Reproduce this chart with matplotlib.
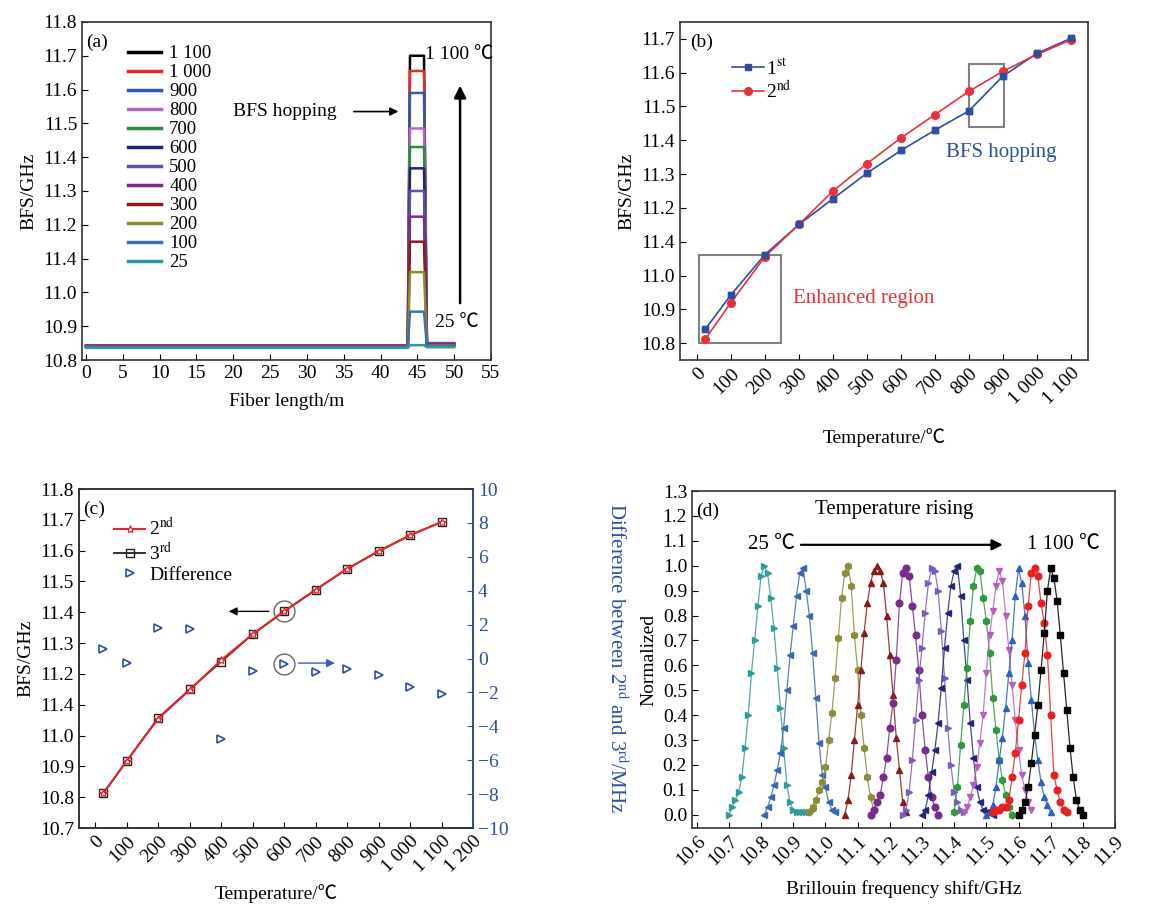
import numpy as np
import matplotlib.pyplot as plt
from matplotlib.patches import Rectangle

plt.rcParams['font.family'] = ['Liberation Serif', 'Noto Sans CJK SC']
plt.rcParams['mathtext.fontset'] = 'stix'
plt.rcParams['font.size'] = 14
plt.rcParams['axes.linewidth'] = 1.2
plt.rcParams['axes.edgecolor'] = '#333333'

# ---------------- data ----------------
# (a) BFS along the fiber, heated section at ~44-46 m
temps_a = ['1 100', '1 000', '900', '800', '700', '600', '500', '400', '300', '200', '100', '25']
colors_a = ['#000000', '#e8262c', '#2a5db0', '#b467c2', '#2e8b3e', '#1f2270',
            '#5b4fb8', '#7a2a90', '#8b1a1a', '#8c8c2e', '#3b6fb3', '#2a9a9a']
fiber_pos = [0, 43.7, 44.0, 45.9, 46.3, 50]
base_before = [10.842, 10.843, 10.841, 10.842, 10.840, 10.841, 10.840, 10.843, 10.840, 10.839, 10.838, 10.836]
peak_bfs = [11.700, 11.655, 11.590, 11.485, 11.430, 11.367, 11.300, 11.224, 11.150, 11.060, 10.943, 10.844]
base_after = [10.850, 10.849, 10.848, 10.847, 10.846, 10.845, 10.845, 10.846, 10.844, 10.843, 10.842, 10.838]

# (b) BFS vs temperature, 1st and 2nd heating
temp_b = [25, 100, 200, 300, 400, 500, 600, 700, 800, 900, 1000, 1100]
bfs_1st = [10.842, 10.943, 11.062, 11.151, 11.227, 11.303, 11.370, 11.430, 11.487, 11.590, 11.657, 11.702]
bfs_2nd = [10.813, 10.920, 11.056, 11.151, 11.250, 11.331, 11.407, 11.476, 11.545, 11.604, 11.654, 11.697]

# (c) 2nd vs 3rd heating and their difference (MHz)
bfs_2nd_c = [10.812, 10.918, 11.055, 11.148, 11.245, 11.329, 11.403, 11.473, 11.541, 11.598, 11.650, 11.693]
bfs_3rd_c = [10.812, 10.918, 11.057, 11.150, 11.240, 11.329, 11.403, 11.473, 11.541, 11.598, 11.650, 11.693]
diff_mhz = [0.56, -0.27, 1.82, 1.74, -4.76, -0.74, -0.34, -0.78, -0.60, -0.97, -1.70, -2.10]

# (d) normalized Brillouin gain spectra
f25 = [10.70, 10.71, 10.72, 10.73, 10.74, 10.75, 10.76, 10.77, 10.78, 10.79, 10.80, 10.81, 10.82, 10.83,
       10.84, 10.85, 10.86, 10.87, 10.88, 10.89, 10.90, 10.91, 10.92, 10.93, 10.94, 10.95, 10.96]
g25 = [0.00, 0.03, 0.06, 0.09, 0.15, 0.27, 0.40, 0.57, 0.70, 0.84, 0.96, 1.00, 0.97, 0.87,
       0.75, 0.59, 0.43, 0.27, 0.12, 0.05, 0.02, 0.01, 0.01, 0.01, 0.01, 0.01, 0.02]
f100 = [10.81, 10.82, 10.83, 10.84, 10.85, 10.86, 10.87, 10.88, 10.89, 10.90, 10.91, 10.92,
        10.93, 10.94, 10.95, 10.96, 10.97, 10.98, 10.99, 11.00, 11.01, 11.02, 11.03]
g100 = [0.00, 0.03, 0.07, 0.12, 0.18, 0.25, 0.35, 0.50, 0.64, 0.76, 0.88, 0.97,
        0.99, 0.90, 0.80, 0.65, 0.47, 0.29, 0.16, 0.11, 0.05, 0.02, 0.01]
f200 = [10.95, 10.96, 10.97, 10.98, 10.99, 11.00, 11.01, 11.02, 11.03, 11.04, 11.05,
        11.06, 11.07, 11.08, 11.09, 11.10, 11.11, 11.12, 11.13, 11.14, 11.15]
g200 = [0.01, 0.03, 0.06, 0.10, 0.13, 0.19, 0.30, 0.41, 0.55, 0.71, 0.87,
        0.97, 1.00, 0.92, 0.72, 0.58, 0.40, 0.27, 0.15, 0.07, 0.02]
f300 = [11.06, 11.07, 11.08, 11.09, 11.10, 11.11, 11.12, 11.13, 11.14, 11.15,
        11.16, 11.17, 11.18, 11.19, 11.20, 11.21, 11.22, 11.23, 11.24, 11.25]
g300 = [0.00, 0.06, 0.16, 0.30, 0.44, 0.58, 0.73, 0.85, 0.93, 0.98,
        1.00, 0.98, 0.93, 0.80, 0.64, 0.48, 0.31, 0.18, 0.05, 0.01]
f400 = [11.14, 11.15, 11.16, 11.17, 11.18, 11.19, 11.20, 11.21, 11.22, 11.23, 11.24,
        11.25, 11.26, 11.27, 11.28, 11.29, 11.30, 11.31, 11.32, 11.33, 11.34, 11.35]
g400 = [0.00, 0.02, 0.05, 0.08, 0.15, 0.23, 0.35, 0.45, 0.62, 0.85, 0.97,
        0.99, 0.96, 0.84, 0.72, 0.58, 0.40, 0.26, 0.15, 0.07, 0.03, 0.00]
f500 = [11.24, 11.25, 11.26, 11.27, 11.28, 11.29, 11.30, 11.31, 11.32, 11.33,
        11.34, 11.35, 11.36, 11.37, 11.38, 11.39, 11.40, 11.41, 11.42, 11.43]
g500 = [0.00, 0.02, 0.09, 0.22, 0.38, 0.54, 0.67, 0.81, 0.93, 0.99,
        0.98, 0.90, 0.74, 0.55, 0.35, 0.20, 0.09, 0.05, 0.02, 0.01]
f600 = [11.30, 11.31, 11.32, 11.33, 11.34, 11.35, 11.36, 11.37, 11.38, 11.39, 11.40, 11.41,
        11.42, 11.43, 11.44, 11.45, 11.46, 11.47, 11.48, 11.49, 11.50, 11.51, 11.52]
g600 = [0.00, 0.02, 0.08, 0.17, 0.26, 0.37, 0.51, 0.67, 0.81, 0.92, 0.98, 1.00,
        0.88, 0.70, 0.54, 0.37, 0.23, 0.11, 0.05, 0.02, 0.01, 0.01, 0.00]
f700 = [11.40, 11.41, 11.42, 11.43, 11.44, 11.45, 11.46, 11.47, 11.48, 11.49,
        11.50, 11.51, 11.52, 11.53, 11.54, 11.55, 11.56, 11.57, 11.58]
g700 = [0.01, 0.11, 0.28, 0.44, 0.59, 0.78, 0.92, 0.99, 0.98, 0.87,
        0.78, 0.65, 0.47, 0.34, 0.22, 0.14, 0.08, 0.03, 0.00]
f800 = [11.43, 11.44, 11.45, 11.46, 11.47, 11.48, 11.49, 11.50, 11.51, 11.52, 11.53,
        11.54, 11.55, 11.56, 11.57, 11.58, 11.59, 11.60, 11.61, 11.62, 11.63, 11.64]
g800 = [0.01, 0.03, 0.07, 0.12, 0.19, 0.29, 0.40, 0.57, 0.72, 0.82, 0.92,
        0.98, 0.94, 0.80, 0.66, 0.52, 0.38, 0.26, 0.16, 0.10, 0.05, 0.02]
f900 = [11.50, 11.51, 11.52, 11.53, 11.54, 11.55, 11.56, 11.57, 11.58, 11.59, 11.60,
        11.61, 11.62, 11.63, 11.64, 11.65, 11.66, 11.67, 11.68, 11.69, 11.70]
g900 = [0.00, 0.01, 0.04, 0.11, 0.22, 0.31, 0.43, 0.57, 0.70, 0.88, 0.99,
        0.93, 0.80, 0.61, 0.46, 0.32, 0.22, 0.13, 0.07, 0.04, 0.01]
f1000 = [11.52, 11.53, 11.54, 11.55, 11.56, 11.57, 11.58, 11.59, 11.60, 11.61, 11.62, 11.63,
         11.64, 11.65, 11.66, 11.67, 11.68, 11.69, 11.70, 11.71, 11.72, 11.73, 11.74, 11.75]
g1000 = [0.01, 0.02, 0.02, 0.03, 0.03, 0.06, 0.15, 0.25, 0.38, 0.52, 0.65, 0.84,
         0.97, 0.99, 0.96, 0.85, 0.77, 0.64, 0.40, 0.16, 0.10, 0.05, 0.02, 0.01]
f1100 = [11.60, 11.61, 11.62, 11.63, 11.64, 11.65, 11.66, 11.67, 11.68, 11.69, 11.70,
         11.71, 11.72, 11.73, 11.74, 11.75, 11.76, 11.77, 11.78, 11.79, 11.80]
g1100 = [0.00, 0.02, 0.05, 0.11, 0.21, 0.32, 0.44, 0.58, 0.73, 0.90, 0.99,
         0.95, 0.86, 0.72, 0.57, 0.42, 0.27, 0.15, 0.06, 0.02, 0.00]

spectra = [(f25, g25), (f100, g100), (f200, g200), (f300, g300), (f400, g400), (f500, g500),
           (f600, g600), (f700, g700), (f800, g800), (f900, g900), (f1000, g1000), (f1100, g1100)]
colors_d = ['#2e9c9a', '#3a68b0', '#8c8c3a', '#8b1a1a', '#7b2a8e', '#7a5bbf',
            '#24257a', '#2e9a3e', '#b55fbf', '#2f5fc0', '#e82020', '#000000']
markers_d = ['>', '<', 'h', '^', 'o', '>', '<', 'h', 'v', '^', 'o', 's']

blue_c = '#2c4fa3'
red_c = '#e8323a'

fig = plt.figure(figsize=(11.61, 9.11), dpi=100)

# ---------------- (a) ----------------
ax = fig.add_axes([0.0706, 0.6048, 0.3523, 0.3711])
for i in range(len(temps_a)):
    yv = [base_before[i], base_before[i], peak_bfs[i], peak_bfs[i], base_after[i], base_after[i]]
    ax.plot(fiber_pos, yv, color=colors_a[i], lw=1.8, label=temps_a[i])
ax.set_xlim(-0.55, 55)
ax.set_ylim(10.8, 11.8)
ax.set_xticks(np.arange(0, 56, 5))
yt = [10.8, 10.9, 11.0, 11.1, 11.2, 11.3, 11.4, 11.5, 11.6, 11.7, 11.8]
ax.set_yticks(yt)
ax.set_yticklabels(['10.8', '10.9', '11.0', '11.4', '11.2', '11.3', '11.4', '11.5', '11.6', '11.7', '11.8'])
ax.tick_params(direction='in', length=4)
ax.set_xlabel('Fiber length/m', labelpad=8)
ax.set_ylabel('BFS/GHz')
leg = ax.legend(loc='upper left', bbox_to_anchor=(0.085, 0.965), frameon=False, fontsize=13.5,
                handlelength=1.75, handletextpad=0.45, labelspacing=0.1, borderpad=0.1)
for ln in leg.get_lines():
    ln.set_linewidth(2.5)
ax.text(0.01, 0.965, '(a)', transform=ax.transAxes, va='top', ha='left')
ax.text(46.1, 11.705, '1 100 ℃', va='center', ha='left')
ax.text(47.4, 10.912, '25 ℃', va='center', ha='left')
ax.annotate('', xy=(50.8, 11.62), xytext=(50.8, 10.96),
            arrowprops=dict(arrowstyle='-|>', color='black', lw=1.8, mutation_scale=18))
ax.text(20.0, 11.535, 'BFS hopping', va='center', ha='left')
ax.annotate('', xy=(42.8, 11.535), xytext=(36.0, 11.535),
            arrowprops=dict(arrowstyle='-|>', color='black', lw=1.2, mutation_scale=12))

# ---------------- (b) ----------------
ax = fig.add_axes([0.5857, 0.6048, 0.3514, 0.3711])
ax.plot(temp_b, bfs_1st, '-s', color=blue_c, lw=1.2, ms=5, label='1$^{\\mathrm{st}}$')
ax.plot(temp_b, bfs_2nd, '-o', color=red_c, lw=1.2, ms=5.5, label='2$^{\\mathrm{nd}}$')
ax.plot(temp_b, bfs_1st, 's', color=blue_c, ms=5)
ax.set_xlim(-50, 1150)
ax.set_ylim(10.75, 11.75)
ax.set_xticks([0, 100, 200, 300, 400, 500, 600, 700, 800, 900, 1000, 1100])
ax.set_xticklabels(['0', '100', '200', '300', '400', '500', '600', '700', '800', '900', '1 000', '1 100'],
                   rotation=45, ha='right', rotation_mode='anchor')
ax.set_yticks([10.8, 10.9, 11.0, 11.1, 11.2, 11.3, 11.4, 11.5, 11.6, 11.7])
ax.set_yticklabels(['10.8', '10.9', '11.0', '11.4', '11.2', '11.3', '11.4', '11.5', '11.6', '11.7'])
ax.tick_params(direction='in', length=4)
ax.set_xlabel('Temperature/℃', labelpad=14)
ax.set_ylabel('BFS/GHz')
ax.add_patch(Rectangle((5, 10.80), 242, 0.26, fill=False, edgecolor='#808080', lw=1.5))
ax.add_patch(Rectangle((800, 11.438), 104, 0.188, fill=False, edgecolor='#808080', lw=1.5))
ax.text(731, 11.365, 'BFS hopping', color=blue_c, va='center', ha='left', fontsize=15)
ax.text(281, 10.933, 'Enhanced region', color=red_c, va='center', ha='left', fontsize=15)
ax.text(0.025, 0.965, '(b)', transform=ax.transAxes, va='top', ha='left')
ax.legend(loc='upper left', bbox_to_anchor=(0.1, 0.93), frameon=False, fontsize=14,
          handlelength=1.6, labelspacing=0.1, borderpad=0.1, handletextpad=0.1)

# ---------------- (c) ----------------
ax = fig.add_axes([0.068, 0.0911, 0.3394, 0.3721])
ax.plot(temp_b, bfs_3rd_c, '-s', color='#222222', lw=1.3, ms=6, mfc='none', mew=1.0, label='3$^{\\mathrm{rd}}$')
ax.plot(temp_b, bfs_2nd_c, '-*', color='#e8262c', lw=1.5, ms=6, mfc='white', mew=0.9, label='2$^{\\mathrm{nd}}$')
ax.set_xlim(-52, 1200)
ax.set_ylim(10.7, 11.8)
ax.set_xticks(np.arange(0, 1201, 100))
ax.set_xticklabels(['0', '100', '200', '300', '400', '500', '600', '700', '800', '900', '1 000', '1 100', '1 200'],
                   rotation=45, ha='right', rotation_mode='anchor')
ax.set_yticks([10.7, 10.8, 10.9, 11.0, 11.1, 11.2, 11.3, 11.4, 11.5, 11.6, 11.7, 11.8])
ax.set_yticklabels(['10.7', '10.8', '10.9', '11.0', '11.4', '11.2', '11.3', '11.4', '11.5', '11.6', '11.7', '11.8'])
ax.tick_params(direction='in', length=4)
ax.set_xlabel('Temperature/℃', labelpad=6)
ax.set_ylabel('BFS/GHz')
ax.text(0.01, 0.965, '(c)', transform=ax.transAxes, va='top', ha='left')
ax.plot([600], [11.403], 'o', ms=15, mfc='none', mec='#666666', mew=1.0)
ax.annotate('', xy=(415, 11.403), xytext=(560, 11.403),
            arrowprops=dict(arrowstyle='-|>', color='black', lw=1.0, mutation_scale=12))
ax2 = ax.twinx()
ax2.plot(temp_b, diff_mhz, '>', color=blue_c, ms=6, mfc='white', mew=1.2, label='Difference')
ax2.plot([600], [-0.34], 'o', ms=15, mfc='none', mec='#666666', mew=1.0)
ax2.annotate('', xy=(770, -0.27), xytext=(637, -0.27),
             arrowprops=dict(arrowstyle='-|>', color='#3a5fb0', lw=1.0, mutation_scale=12))
ax2.set_ylim(-10, 10)
ax2.set_yticks(np.arange(-10, 11, 2))
ax2.tick_params(axis='y', colors=blue_c, direction='in', length=4)
ax2.spines['right'].set_color(blue_c)
h1, l1 = ax.get_legend_handles_labels()
h2, l2 = ax2.get_legend_handles_labels()
ax.legend([h1[1], h1[0], h2[0]], [l1[1], l1[0], l2[0]], loc='upper left', bbox_to_anchor=(0.06, 0.95),
          frameon=False, fontsize=14, handlelength=1.6, labelspacing=0.1, borderpad=0.1, handletextpad=0.2)
fig.text(616 / 1161, 1 - 658 / 911, 'Difference between 2$^{\\mathrm{nd}}$ and 3$^{\\mathrm{rd}}$/MHz',
         rotation=270, color=blue_c, ha='center', va='center', fontsize=15)

# ---------------- (d) ----------------
ax = fig.add_axes([0.596, 0.0911, 0.3644, 0.3699])
for (fv, gv), c, m in zip(spectra, colors_d, markers_d):
    ax.plot(fv, gv, '-', color=c, lw=0.9, alpha=0.85)
    ax.plot(fv, gv, m, color=c, ms=4.8, ls='none')
ax.set_xlim(10.585, 11.9)
ax.set_ylim(-0.053, 1.3)
ax.set_xticks(np.round(np.arange(10.6, 11.91, 0.1), 1))
ax.set_xticklabels([f'{v:.1f}' for v in np.arange(10.6, 11.91, 0.1)],
                   rotation=45, ha='right', rotation_mode='anchor')
ax.set_yticks(np.round(np.arange(0, 1.31, 0.1), 1))
ax.set_yticklabels([f'{v:.1f}' for v in np.arange(0, 1.31, 0.1)])
ax.tick_params(direction='in', length=4)
ax.set_xlabel('Brillouin frequency shift/GHz', labelpad=8)
ax.set_ylabel('Normalized')
ax.text(0.01, 0.965, '(d)', transform=ax.transAxes, va='top', ha='left')
ax.text(11.213, 1.225, 'Temperature rising', ha='center', va='center', fontsize=15)
ax.text(10.832, 1.084, '25 ℃', ha='center', va='center', fontsize=15)
ax.text(11.739, 1.084, '1 100 ℃', ha='center', va='center', fontsize=15)
ax.annotate('', xy=(11.56, 1.084), xytext=(10.915, 1.084),
            arrowprops=dict(arrowstyle='-|>', color='black', lw=1.6, mutation_scale=16))

fig.savefig('out.png', dpi=100)
